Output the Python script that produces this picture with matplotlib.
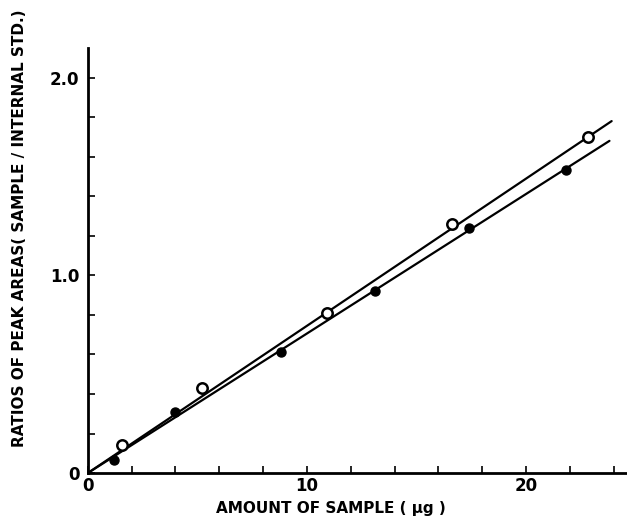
import matplotlib.pyplot as plt

# calibration data: amount injected (ug) vs peak area ratio
open_x = [1.55, 5.2, 10.9, 16.6, 22.8]
open_y = [0.14, 0.43, 0.81, 1.26, 1.70]
filled_x = [1.2, 4.0, 8.8, 13.1, 17.4, 21.8]
filled_y = [0.065, 0.31, 0.61, 0.92, 1.24, 1.535]

# fitted lines through the origin
upper_line_x = [0, 23.9]
upper_line_y = [0, 1.78]
lower_line_x = [0, 23.8]
lower_line_y = [0, 1.68]

x_ticks = [0, 10, 20]
y_ticks = [0, 1.0, 2.0]
y_tick_labels = ["0", "1.0", "2.0"]

plt.rcParams['font.family'] = 'DejaVu Sans'
plt.rcParams['font.weight'] = 'bold'

fig = plt.figure(figsize=(6.27, 5.21), dpi=100)
ax = fig.add_axes([0.140, 0.092, 0.86, 0.816])

ax.plot(upper_line_x, upper_line_y, color='black', lw=1.6, solid_capstyle='round')
ax.plot(lower_line_x, lower_line_y, color='black', lw=1.6, solid_capstyle='round')
ax.plot(open_x, open_y, 'o', ms=7.5, mfc='white', mec='black', mew=1.8)
ax.plot(filled_x, filled_y, 'o', ms=6.5, mfc='black', mec='black')

ax.set_xlim(0, 24.6)
ax.set_ylim(0, 2.15)

for side in ['top', 'right']:
    ax.spines[side].set_visible(False)
for side in ['left', 'bottom']:
    ax.spines[side].set_linewidth(2)

ax.set_xticks(x_ticks)
ax.set_xticks(range(0, 25, 2), minor=True)
ax.set_yticks(y_ticks)
ax.set_yticklabels(y_tick_labels)
ax.set_yticks([i * 0.2 for i in range(11)], minor=True)
ax.tick_params(which='both', direction='in', width=1.2, length=5, labelsize=12)
ax.tick_params(axis='x', pad=3)
ax.tick_params(axis='y', pad=6)

ax.set_xlabel("AMOUNT OF SAMPLE ( \u00b5g )", fontsize=11, fontweight='bold')
ax.set_ylabel("RATIOS OF PEAK AREAS( SAMPLE / INTERNAL STD.)", fontsize=11,
              fontweight='bold')
ax.xaxis.set_label_coords(0.45, -0.065)
ax.yaxis.set_label_coords(-0.112, 0.575)

fig.savefig("out.png", dpi=100)
